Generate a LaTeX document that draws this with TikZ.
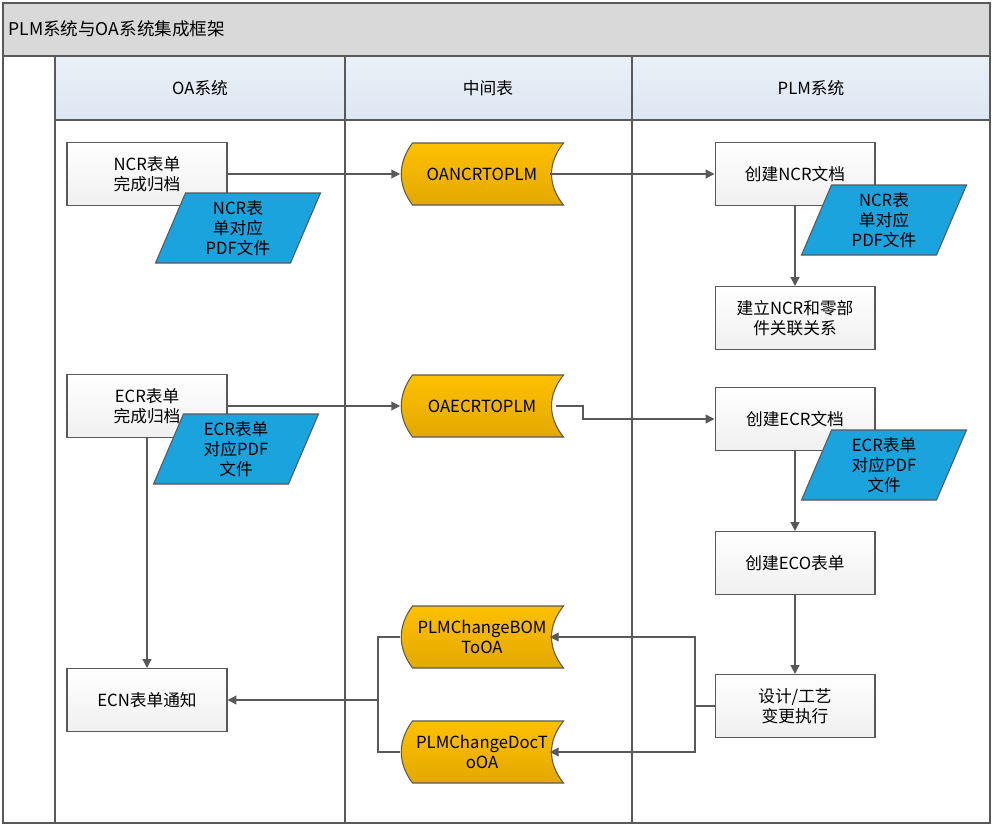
\documentclass[tikz,border=0pt]{standalone}
\usepackage{fontspec}
\setmainfont{Noto Sans CJK SC}
\usetikzlibrary{calc,arrows.meta}
\definecolor{ylw}{HTML}{FFC000}
\definecolor{ylwd}{HTML}{E3A800}
\definecolor{blu}{HTML}{1AA3DC}
\definecolor{hdr}{HTML}{DCE6F2}
\definecolor{ttl}{HTML}{D9D9D9}
\definecolor{ln}{HTML}{595959}
\tikzset{
  x=0.02cm,y=-0.02cm,
  every node/.style={font=\fontsize{9.5}{11.5}\selectfont,align=center,inner sep=0pt},
  box/.style={draw=ln,line width=0.6pt,top color=white,bottom color=gray!12,minimum width=3.2cm,minimum height=1.26cm},
  stnode/.style={minimum width=3.26cm,minimum height=1.25cm},
  stfill/.style={draw=ln,line width=0.6pt,top color=ylw,bottom color=ylwd},
  panode/.style={minimum width=3.3cm,minimum height=1.4cm},
  pafill/.style={draw=ln,line width=0.6pt,fill=blu},
  conn/.style={draw=ln,line width=0.7pt},
  arr/.style={conn,-{Triangle[length=5pt,width=5pt]}},
  lane/.style={draw=ln,line width=0.8pt}
}
% stored data: center, half width 81.5, half height 31
\newcommand\storedat[3]{%
  \coordinate (#1c) at (#2);
  \path[stfill] ($(#1c)+(-69.5,-31)$) -- ($(#1c)+(81.5,-31)$)
    .. controls ($(#1c)+(65.5,-11)$) and ($(#1c)+(65.5,11)$) .. ($(#1c)+(81.5,31)$)
    -- ($(#1c)+(-69.5,31)$)
    .. controls ($(#1c)+(-84.5,11)$) and ($(#1c)+(-84.5,-11)$) .. cycle;
  \node[stnode] (#1) at (#1c) {#3};}
% parallelogram: half width 82.5, half height 35
\newcommand\paraat[3]{%
  \coordinate (#1c) at (#2);
  \path[pafill] ($(#1c)+(-52.5,-35)$) -- ($(#1c)+(82.5,-35)$) -- ($(#1c)+(52.5,35)$) -- ($(#1c)+(-82.5,35)$) -- cycle;
  \node[panode] (#1) at (#1c) {#3};}
\begin{document}
\begin{tikzpicture}
\useasboundingbox (0,0) rectangle (1000,832);
\fill[white] (0,0) rectangle (1000,832);
% frame
\fill[ttl] (3,3) rectangle (990,55);
\node[anchor=west,font=\fontsize{10}{12}\selectfont] (title) at (8,29) {PLM系统与OA系统集成框架};
\fill[top color=hdr!60,bottom color=hdr] (55,57) rectangle (990,120);
\draw[lane] (3,3) rectangle (990,823);
\draw[lane] (3,56) -- (990,56);
\draw[lane] (55,56) -- (55,823);
\draw[lane] (345,56) -- (345,823);
\draw[lane] (632,56) -- (632,823);
\draw[lane] (55,120) -- (990,120);
\node (h1) at (200,88) {OA系统};
\node (h2) at (488,88) {中间表};
\node (h3) at (811,88) {PLM系统};
% boxes
\node[box] (ncr) at (147,174) {NCR表单\\完成归档};
\node[box] (cncr) at (795,174) {创建NCR文档};
\node[box] (jl) at (795,318) {建立NCR和零部\\件关联关系};
\node[box] (ecr) at (147,406) {ECR表单\\完成归档};
\node[box] (cecr) at (795,419) {创建ECR文档};
\node[box] (eco) at (795,563) {创建ECO表单};
\node[box] (ecn) at (147,700) {ECN表单通知};
\node[box] (sj) at (795,706) {设计/工艺\\变更执行};
% parallelograms
\paraat{p1}{238,228}{NCR表\\单对应\\PDF文件}
\paraat{p2}{884,220}{NCR表\\单对应\\PDF文件}
\paraat{p3}{236,449}{ECR表单\\对应PDF\\文件}
\paraat{p4}{884,465}{ECR表单\\对应PDF\\文件}
% stored data
\storedat{s1}{482,174}{OANCRTOPLM}
\storedat{s2}{482,406}{OAECRTOPLM}
\storedat{s3}{482,637}{PLMChangeBOM\\ToOA}
\storedat{s4}{482,752}{PLMChangeDocT\\oOA}
% connectors
\draw[arr] (ncr.east) -- (s1.west);
\draw[arr] ($(s1.east)+(-14,0)$) -- (cncr.west);
\draw[arr] (cncr.south) -- (jl.north);
\draw[arr] (ecr.east) -- (s2.west);
\coordinate (e2) at ($(s2.east)+(-8,0)$);
\draw[arr] (e2) -| (583,419) -- (cecr.west);
\draw[arr] (cecr.south) -- (eco.north);
\draw[arr] (eco.south) -- (sj.north);
\draw[arr] (ecr.south) -- (ecn.north);
\coordinate (jr) at (695,706);
\draw[conn] (sj.west) -- (jr);
\draw[arr] (jr) |- ($(s3.east)+(-14,0)$);
\draw[arr] (jr) |- ($(s4.east)+(-14,0)$);
\coordinate (jl2) at (378,700);
\draw[conn] (s3.west) -| (jl2) |- (s4.west);
\draw[arr] (jl2) -- (ecn.east);
\end{tikzpicture}
\end{document}
